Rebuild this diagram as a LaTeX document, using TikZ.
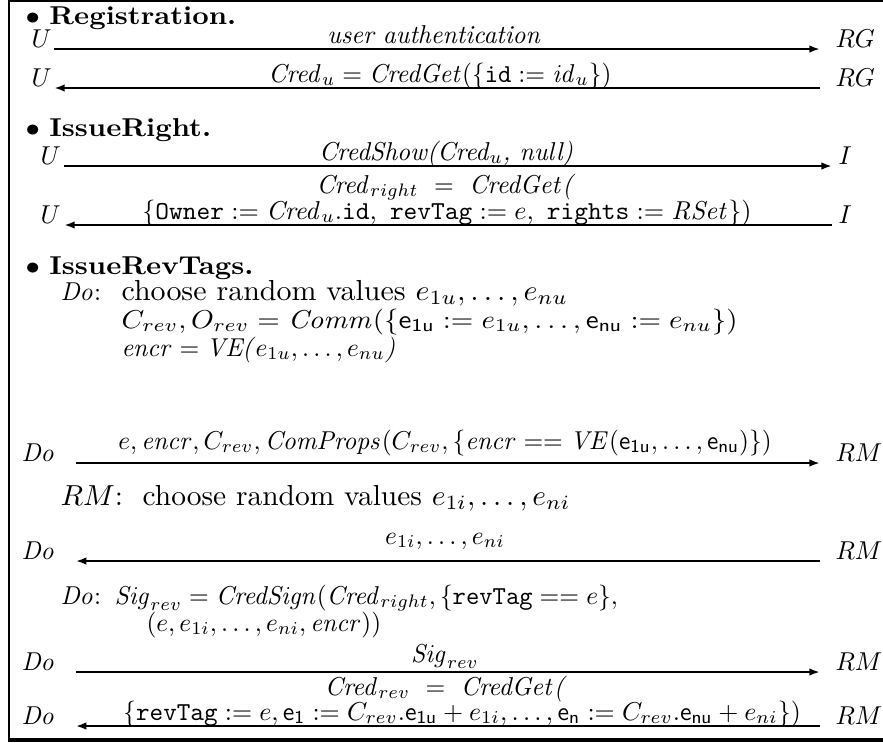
\documentclass[tikz,border=0pt]{standalone}
\usetikzlibrary{arrows.meta}
\begin{document}
\begin{tikzpicture}[x=0.4255pt,y=-0.4255pt,
  mathsz/.style={xscale=1.08, yscale=1.1},
  romansz/.style={xscale=1.18, yscale=1.12},
  headsz/.style={xscale=1.22, yscale=1.1},
  actor/.style={inner sep=0pt, anchor=base west, mathsz},
  txt/.style={inner sep=0pt, anchor=base west, mathsz},
  head/.style={inner sep=0pt, anchor=base west, headsz},
  lbl/.style={inner sep=0pt, anchor=base, mathsz},
  msg/.style={line width=1pt, -{Latex[length=4.5pt,width=3.2pt]}},
  frame/.style={line width=0.8pt}]
\useasboundingbox (0,0) rectangle (883,742);
% frame
\draw[frame] (883,1) -- (9,1) -- (9,740);
\draw[line width=1.4pt] (8.2,740) -- (883,740);

% ---------- Registration
\node[head] (h1) at (25,24) {$\bullet$ \textbf{Registration.}};
\node[actor] (u1) at (31,47) {$U$};
\node[actor] (rg1) at (835,47) {$RG$};
\node[lbl] (l1) at (434,43) {\textit{user authentication}};
\draw[msg] ([shift={(2,2)}]u1.base east) -- ([shift={(-15,2)}]rg1.base west);

\node[actor] (u2) at (31,86) {$U$};
\node[actor] (rg2) at (835,86) {$RG$};
\node[lbl] (l2) at (440,82) {$\mathit{Cred}_u = \mathit{CredGet}(\{\mathtt{id} := \mathit{id}_u\})$};
\draw[msg] ([shift={(-15,2)}]rg2.base west) -- ([shift={(2,2)}]u2.base east);

% ---------- IssueRight
\node[head] (h2) at (25,136) {$\bullet$ \textbf{IssueRight.}};
\node[actor] (u3) at (40,164) {$U$};
\node[actor] (i3) at (838,164) {$I$};
\node[lbl] (l3) at (446,160) {\textit{CredShow(Cred}$_u$\textit{, null)}};
\draw[msg] ([shift={(3,2)}]u3.base east) -- ([shift={(-6,2)}]i3.base west);

\node[actor] (u4) at (40,223) {$U$};
\node[actor] (i4) at (838,223) {$I$};
\node[lbl] (l4a) at (446,193) {$\mathit{Cred}_{right}\ =\ \mathit{CredGet}$\textit{(}};
\node[lbl, xscale=1.03] (l4b) at (447,219) {$\{\mathtt{Owner} := \mathit{Cred}_u.\mathtt{id},\ \mathtt{revTag} := e,\ \mathtt{rights} := \mathit{RSet}\})$};
\draw[msg] ([shift={(-6,2)}]i4.base west) -- ([shift={(3,2)}]u4.base east);

% ---------- IssueRevTags
\node[head] (h3) at (25,274) {$\bullet$ \textbf{IssueRevTags.}};
\node[txt] (d1) at (60,300) {$\mathit{Do}$:};
\node[txt, romansz] (d1a) at (121,300) {choose random values $e_{1u},\dots,e_{nu}$};
\node[txt, xscale=1.14] (d1b) at (121,328) {$C_{rev}, O_{rev} = \mathit{Comm}(\{\mathsf{e}_{\mathsf{1u}} := e_{1u}, \dots, \mathsf{e}_{\mathsf{nu}} := e_{nu}\})$};
\node[txt] (d1c) at (121,356) {$\mathit{encr} = {}$\textit{VE(}$e_{1u},\dots,e_{nu}$\textit{)}};

\node[actor] (do5) at (21,461) {$\mathit{Do}$};
\node[actor] (rm5) at (835,461) {$RM$};
\node[lbl] (l5) at (445,449) {$e, \mathit{encr}, C_{rev}, \mathit{ComProps}(C_{rev}, \{\mathit{encr} == \mathit{VE}(\mathsf{e}_{\mathsf{1u}}, \dots, \mathsf{e}_{\mathsf{nu}})\})$};
\draw[msg] ([shift={(20,2)}]do5.base east) -- ([shift={(-15,2)}]rm5.base west);

\node[txt, xscale=1.16, yscale=1.12] (r1) at (60,505) {$RM$:\ \ choose random values $e_{1i},\dots,e_{ni}$};

\node[actor] (do6) at (21,559) {$\mathit{Do}$};
\node[actor] (rm6) at (835,559) {$RM$};
\node[lbl] (l6) at (445,544) {$e_{1i},\dots,e_{ni}$};
\draw[msg] ([shift={(-15,2)}]rm6.base west) -- ([shift={(20,2)}]do6.base east);

\node[txt] (d2) at (60,604) {$\mathit{Do}$:};
\node[txt] (d2a) at (114,604) {$\mathit{Sig}_{rev} = \mathit{CredSign}(\mathit{Cred}_{right}, \{\mathtt{revTag} == e\},$};
\node[txt] (d2b) at (146,631) {$(e, e_{1i}, \dots, e_{ni}, \mathit{encr}))$};

\node[actor] (do7) at (21,670) {$\mathit{Do}$};
\node[actor] (rm7) at (835,670) {$RM$};
\node[lbl] (l7) at (445,662) {$\mathit{Sig}_{rev}$};
\draw[msg] ([shift={(20,2)}]do7.base east) -- ([shift={(-15,2)}]rm7.base west);

\node[actor] (do8) at (21,724) {$\mathit{Do}$};
\node[actor] (rm8) at (835,724) {$RM$};
\node[lbl] (l8a) at (446,695) {$\mathit{Cred}_{rev}\ =\ \mathit{CredGet}$\textit{(}};
\node[lbl, xscale=1.02] (l8b) at (462,720) {$\{\mathtt{revTag} := e, \mathsf{e}_{\mathsf{1}} := C_{rev}.\mathsf{e}_{\mathsf{1u}} + e_{1i}, \dots, \mathsf{e}_{\mathsf{n}} := C_{rev}.\mathsf{e}_{\mathsf{nu}} + e_{ni}\})$};
\draw[msg] ([shift={(-15,2)}]rm8.base west) -- ([shift={(20,2)}]do8.base east);
\end{tikzpicture}
\end{document}
